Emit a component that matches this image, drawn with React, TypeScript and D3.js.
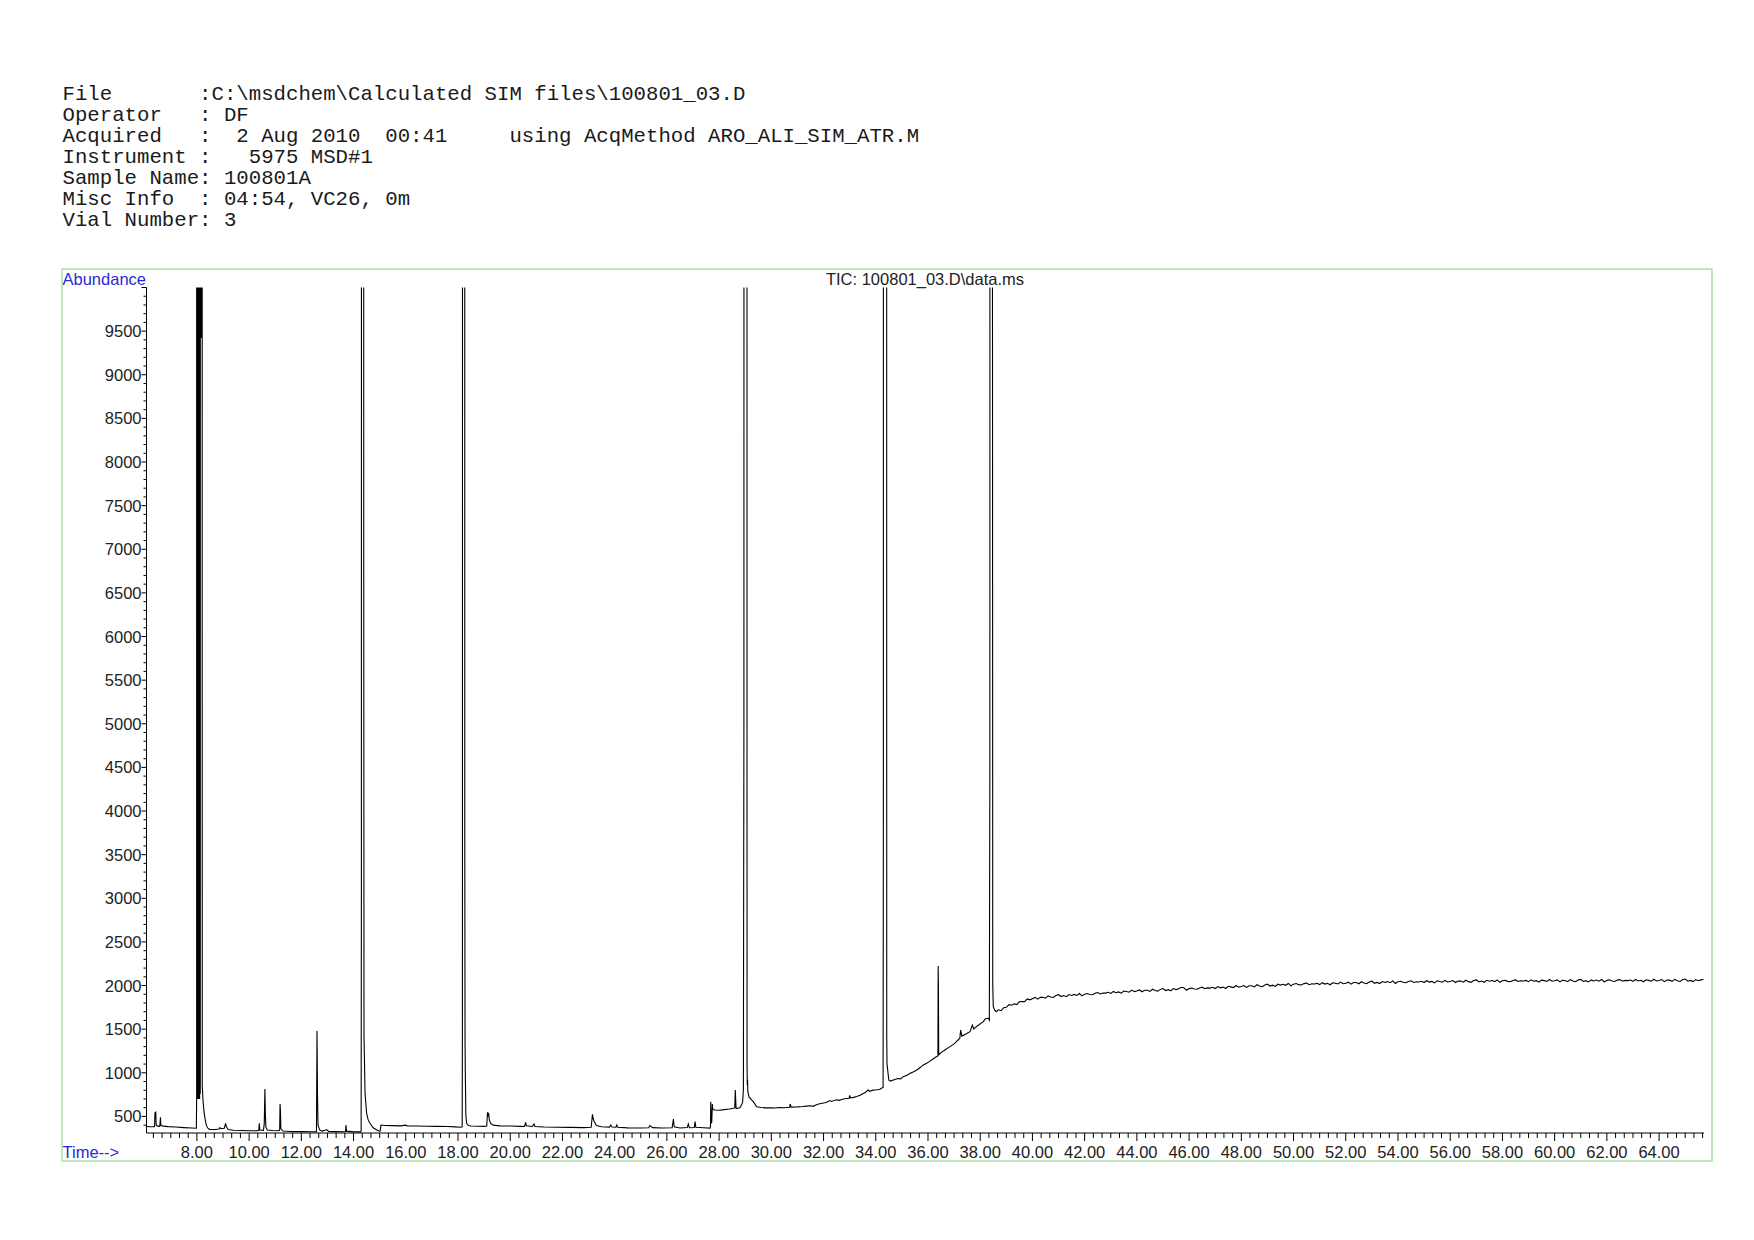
import React from "react";
import * as d3 from "d3";

const headerLines: string[] = [
  "File       :C:\\msdchem\\Calculated SIM files\\100801_03.D",
  "Operator   : DF",
  "Acquired   :  2 Aug 2010  00:41     using AcqMethod ARO_ALI_SIM_ATR.M",
  "Instrument :   5975 MSD#1",
  "Sample Name: 100801A",
  "Misc Info  : 04:54, VC26, 0m",
  "Vial Number: 3",
];

const chartTitle = "TIC: 100801_03.D\\data.ms";
const yAxisTitle = "Abundance";
const xAxisTitle = "Time-->";

const timeDomain: [number, number] = [6.07, 65.72];
const abundanceDomain: [number, number] = [310, 10000];
const xLabelTicks: number[] = [8, 10, 12, 14, 16, 18, 20, 22, 24, 26, 28, 30, 32, 34, 36, 38, 40, 42, 44, 46, 48, 50, 52, 54, 56, 58, 60, 62, 64];
const yLabelTicks: number[] = [500, 1000, 1500, 2000, 2500, 3000, 3500, 4000, 4500, 5000, 5500, 6000, 6500, 7000, 7500, 8000, 8500, 9000, 9500];

// explicit trace points (time min, abundance) up to ~38.8 min
const traceEarly: [number, number][] = [
  [6.08, 385], [6.2, 382], [6.36, 381], [6.38, 386], [6.395, 548], [6.41, 470], [6.425, 556], [6.44, 402],
  [6.5, 389], [6.58, 386], [6.605, 490], [6.62, 400], [6.7, 389], [6.9, 383], [7.2, 378], [7.5, 372], [7.8, 367], [7.98, 365],
  [7.99, 700], [7.995, 40000], [8.015, 700], [8.03, 40000], [8.045, 700], [8.06, 40000], [8.075, 700], [8.09, 40000],
  [8.105, 700], [8.12, 40000], [8.13, 760], [8.135, 40000], [8.165, 9420], [8.195, 40000], [8.205, 860],
  [8.23, 700], [8.27, 560], [8.32, 460], [8.36, 400], [8.41, 370], [8.46, 355],
  [8.5, 352], [8.7, 350], [8.85, 355], [8.88, 372], [8.92, 360], [9.05, 365], [9.1, 420], [9.13, 380], [9.2, 350],
  [9.4, 341], [9.7, 338], [10.0, 336], [10.3, 335], [10.37, 340], [10.39, 421], [10.41, 345], [10.55, 340],
  [10.58, 420], [10.605, 814], [10.62, 554], [10.64, 380], [10.7, 345], [10.9, 338], [11.1, 335], [11.17, 340],
  [11.185, 642], [11.2, 561], [11.215, 360], [11.3, 332], [11.6, 328], [12.0, 326], [12.4, 324], [12.58, 326],
  [12.6, 1479], [12.62, 726], [12.64, 400], [12.7, 345], [12.8, 332], [12.9, 342], [12.97, 350], [13.05, 329],
  [13.3, 326], [13.6, 324], [13.69, 328], [13.71, 401], [13.73, 331], [14.0, 323], [14.27, 323],
  [14.29, 330], [14.30, 3140], [14.31, 40000], [14.38, 40000], [14.39, 7000], [14.40, 1430], [14.44, 765],
  [14.5, 535], [14.56, 460], [14.63, 421], [14.75, 370], [14.89, 344], [15.0, 328], [15.02, 335], [15.05, 401],
  [15.2, 396], [15.5, 394], [15.8, 392], [16.0, 400], [16.05, 392], [16.4, 390], [16.8, 388], [17.2, 386],
  [17.6, 384], [17.9, 380], [18.1, 376], [18.16, 380], [18.17, 1700], [18.18, 40000], [18.25, 40000],
  [18.26, 3590], [18.27, 1356], [18.28, 1012], [18.3, 520], [18.33, 421], [18.4, 396], [18.5, 391],
  [18.8, 388], [19.0, 386], [19.1, 390], [19.13, 547], [19.15, 500], [19.17, 540], [19.2, 460], [19.25, 420],
  [19.35, 400], [19.6, 392], [20.0, 390], [20.4, 386], [20.55, 385], [20.59, 432], [20.62, 392], [20.85, 385],
  [20.91, 413], [20.95, 385], [21.3, 379], [21.8, 376], [22.3, 374], [22.8, 372], [23.1, 375], [23.15, 524],
  [23.18, 470], [23.22, 440], [23.3, 395], [23.5, 381], [23.8, 378], [23.85, 401], [23.9, 378], [24.05, 376],
  [24.08, 401], [24.12, 375], [24.5, 369], [25.0, 367], [25.3, 370], [25.35, 395], [25.45, 372], [25.8, 367],
  [26.2, 370], [26.25, 470], [26.28, 381], [26.5, 368], [26.78, 372], [26.82, 413], [26.86, 370], [27.05, 372],
  [27.08, 440], [27.11, 375], [27.4, 370], [27.65, 366], [27.67, 380], [27.68, 669], [27.70, 420], [27.72, 440],
  [27.74, 642], [27.76, 580], [27.85, 573], [28.0, 570], [28.2, 578], [28.4, 585], [28.55, 593], [28.6, 600],
  [28.62, 802], [28.65, 590], [28.8, 600], [28.9, 660], [28.93, 810], [28.95, 5030], [28.96, 40000],
  [29.06, 40000], [29.07, 1089], [29.08, 860], [29.09, 920], [29.1, 783], [29.15, 720], [29.25, 688],
  [29.31, 669], [29.44, 611], [29.6, 602], [29.8, 598], [30.0, 600], [30.15, 596], [30.3, 603], [30.5, 600],
  [30.7, 605], [30.72, 642], [30.76, 606], [31.0, 609], [31.2, 613], [31.35, 618], [31.5, 622], [31.6, 616],
  [31.7, 631], [31.85, 645], [32.0, 654], [32.1, 660], [32.24, 681], [32.3, 672], [32.5, 690], [32.6, 684],
  [32.7, 695], [32.8, 702], [32.98, 708], [33.0, 742], [33.03, 712], [33.15, 718], [33.27, 728], [33.4, 742],
  [33.5, 760], [33.6, 775], [33.71, 804], [33.75, 788], [33.9, 801], [34.05, 806], [34.16, 811], [34.25, 829],
  [34.28, 831], [34.29, 3600], [34.30, 40000], [34.41, 40000], [34.42, 1413], [34.43, 1108], [34.47, 993],
  [34.5, 917], [34.56, 905], [34.7, 921], [34.85, 935], [34.95, 930], [35.05, 956], [35.2, 972], [35.3, 991],
  [35.45, 1012], [35.57, 1033], [35.7, 1060], [35.82, 1090], [35.95, 1110], [36.05, 1128], [36.14, 1147],
  [36.3, 1180], [36.37, 1191], [36.38, 1200], [36.39, 2224], [36.4, 1986], [36.41, 1204], [36.5, 1231],
  [36.65, 1262], [36.84, 1300], [37.0, 1331], [37.22, 1396], [37.25, 1490], [37.3, 1421], [37.45, 1444],
  [37.61, 1472], [37.7, 1547], [37.75, 1502], [37.9, 1540], [38.12, 1586], [38.2, 1620], [38.31, 1625],
  [38.35, 1604], [38.37, 4550], [38.38, 40000], [38.46, 40000], [38.47, 9660], [38.48, 2015], [38.5, 1757],
  [38.55, 1721], [38.61, 1700], [38.7, 1722], [38.8, 1712],
];

// sampled plateau: values every 0.1 min starting at 38.9 min
const plateauStart = 38.9;
const plateauStep = 0.1;
const plateauValues: number[] = [
  1746, 1751, 1781, 1774, 1790, 1782, 1814, 1816, 1816, 1847, 1836, 1850,
  1864, 1844, 1864, 1866, 1855, 1881, 1868, 1863, 1885, 1896,
  1874, 1885, 1872, 1897, 1887, 1898, 1887, 1908, 1881, 1901,
  1909, 1898, 1895, 1912, 1920, 1903, 1914, 1913, 1922, 1909,
  1932, 1918, 1927, 1912, 1937, 1931, 1924, 1948, 1930, 1937,
  1949, 1928, 1946, 1946, 1933, 1958, 1943, 1936, 1956, 1966,
  1943, 1953, 1940, 1965, 1954, 1964, 1980, 1974, 1946, 1965,
  1972, 1961, 1957, 1973, 1981, 1963, 1973, 1971, 1980, 1966,
  1988, 1974, 1982, 1966, 1991, 1985, 1977, 2001, 1982, 1988,
  2000, 1979, 1997, 1997, 1984, 2009, 1994, 1987, 2007, 2016,
  1994, 2004, 1991, 2015, 2005, 2015, 2003, 2024, 1997, 2016,
  2023, 2010, 2006, 2022, 2028, 2010, 2020, 2018, 2025, 2011,
  2033, 2017, 2025, 2009, 2032, 2026, 2018, 2040, 2021, 2027,
  2039, 2016, 2034, 2034, 2020, 2044, 2029, 2021, 2041, 2050,
  2026, 2036, 2023, 2046, 2035, 2045, 2032, 2053, 2024, 2043,
  2049, 2037, 2032, 2047, 2054, 2035, 2044, 2041, 2049, 2034,
  2055, 2040, 2047, 2030, 2054, 2047, 2038, 2060, 2041, 2046,
  2057, 2035, 2052, 2051, 2038, 2061, 2045, 2037, 2057, 2065,
  2041, 2051, 2037, 2060, 2049, 2058, 2045, 2065, 2037, 2055,
  2061, 2048, 2043, 2058, 2064, 2046, 2055, 2052, 2059, 2044,
  2065, 2049, 2056, 2039, 2062, 2056, 2047, 2069, 2049, 2054,
  2065, 2042, 2059, 2058, 2044, 2068, 2052, 2044, 2063, 2071,
  2047, 2056, 2042, 2065, 2053, 2063, 2050, 2070, 2041, 2059,
  2065, 2052, 2047, 2062, 2068, 2049, 2059, 2056, 2063, 2048,
  2069, 2053, 2060, 2043, 2066, 2059, 2050, 2072, 2052, 2057,
  2068, 2045, 2063, 2062, 2048, 2071, 2055, 2047, 2066, 2074,
  2050, 2059, 2045, 2068, 2056, 2065, 2070,
];

const W = 1754;
const H = 1240;
const plotLeft = 146.5;
const plotRight = 1704;
const plotTop = 287.5;
const plotBottom = 1133;
const minorPerMajor = 6;

export default function App() {
  const x = d3.scaleLinear().domain(timeDomain).range([plotLeft, plotRight]);
  const y = d3.scaleLinear().domain(abundanceDomain).range([plotBottom, plotTop]);

  const plateau: [number, number][] = plateauValues.map((v, i) => [plateauStart + i * plateauStep, v]);
  const trace = traceEarly.concat(plateau);
  const line = d3.line<[number, number]>().x((d) => x(d[0])).y((d) => y(d[1]));
  const path = line(trace) || "";

  const minorX: { t: number; major: boolean }[] = [];
  const step = 2 / minorPerMajor;
  for (let k = Math.ceil(timeDomain[0] / step); k <= Math.floor(timeDomain[1] / step); k++) {
    minorX.push({ t: k * step, major: k % minorPerMajor === 0 });
  }
  const minorY: number[] = [];
  for (let v = 400; v <= 10000; v += 100) minorY.push(v);

  const fmt = d3.format(".2f");
  const labelColor = "#222";
  const blue = "#2a2ad8";
  const sans = "'Liberation Sans', Arial, sans-serif";

  return (
    <div style={{ position: "absolute", left: 0, top: 0, width: W, height: H, background: "#fff" }}>
      <svg width={W} height={H} viewBox={`0 0 ${W} ${H}`} style={{ display: "block" }}>
        <rect x={0} y={0} width={W} height={H} fill="#fff" />
        {headerLines.map((t, i) => (
          <text
            key={i}
            x={62.5}
            y={100.4 + i * 20.9}
            fontFamily="'Liberation Mono', 'Courier New', monospace"
            fontSize={20.7}
            fill="#1a1a1a"
            style={{ whiteSpace: "pre" }}
            xmlSpace="preserve"
          >
            {t}
          </text>
        ))}
        <rect x={62} y={269} width={1650} height={892} fill="none" stroke="#93dc93" strokeWidth={1.2} />
        <text x={62.5} y={284.5} fontFamily={sans} fontSize={16.5} fill={blue}>{yAxisTitle}</text>
        <text x={925} y={285} fontFamily={sans} fontSize={16.5} fill={labelColor} textAnchor="middle">{chartTitle}</text>
        <text x={62.5} y={1158} fontFamily={sans} fontSize={16.5} fill={blue}>{xAxisTitle}</text>

        {/* y axis */}
        <line x1={plotLeft} x2={plotLeft} y1={plotTop} y2={plotBottom} stroke="#000" strokeWidth={1} />
        {minorY.map((v) => (
          <line key={"my" + v} x1={plotLeft - (v % 500 === 0 ? 5 : 3)} x2={plotLeft} y1={y(v)} y2={y(v)} stroke="#000" strokeWidth={1} />
        ))}
        {yLabelTicks.map((v) => (
          <text key={"ly" + v} x={plotLeft - 5} y={y(v) + 6} fontFamily={sans} fontSize={16.5} fill={labelColor} textAnchor="end">{v}</text>
        ))}

        {/* x axis */}
        <line x1={plotLeft} x2={plotRight} y1={plotBottom} y2={plotBottom} stroke="#000" strokeWidth={1} />
        {minorX.map((m) => (
          <line key={"mx" + m.t} x1={x(m.t)} x2={x(m.t)} y1={plotBottom} y2={plotBottom + (m.major ? 8 : 5)} stroke="#000" strokeWidth={1} />
        ))}
        {xLabelTicks.map((t) => (
          <text key={"lx" + t} x={x(t)} y={1157.5} fontFamily={sans} fontSize={16.5} fill={labelColor} textAnchor="middle">{fmt(t)}</text>
        ))}

        <defs>
          <clipPath id="plotClip">
            <rect x={plotLeft} y={plotTop} width={plotRight - plotLeft + 2} height={plotBottom - plotTop} />
          </clipPath>
        </defs>
        <path d={path} fill="none" stroke="#000" strokeWidth={1.1} clipPath="url(#plotClip)" strokeLinejoin="miter" />
      </svg>
    </div>
  );
}
